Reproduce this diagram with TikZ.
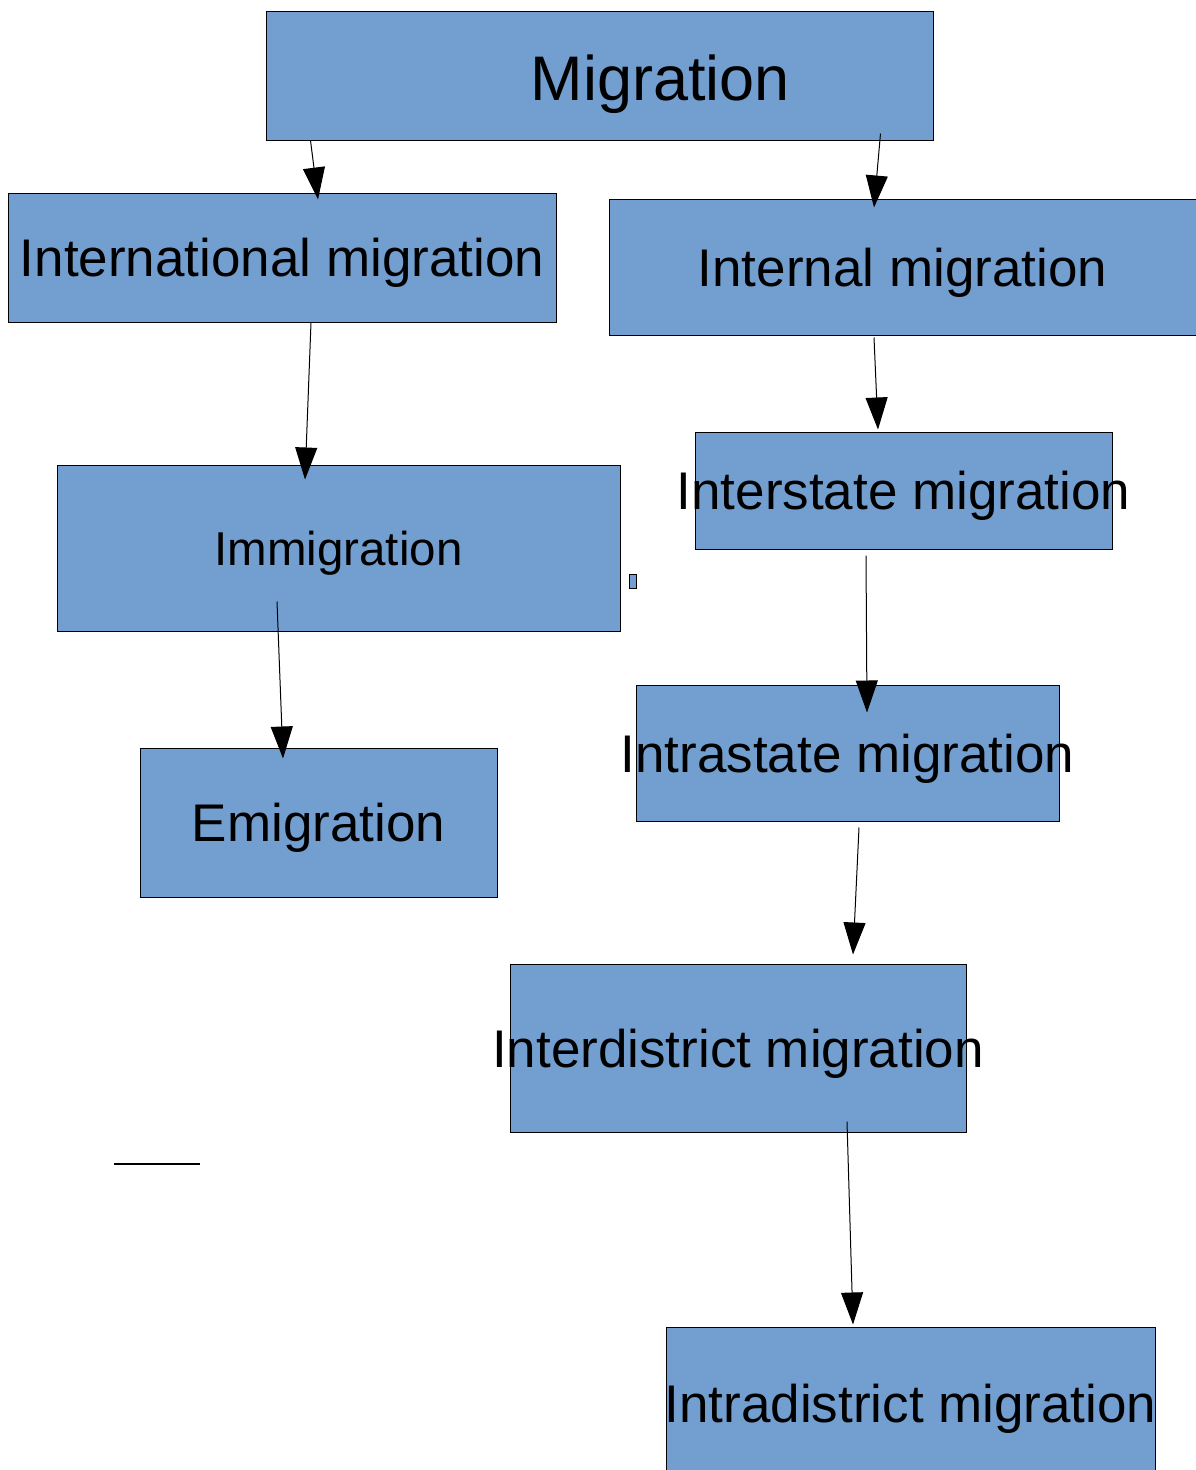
\documentclass[tikz,border=0pt]{standalone}
\usepackage{fontspec}
\setmainfont{Liberation Sans}
\usepackage{xcolor}
\usetikzlibrary{arrows.meta,positioning}
\definecolor{boxblue}{HTML}{729FCF}

\tikzset{
    box/.style={draw=black, line width=1pt, fill=boxblue, inner sep=0pt,
        text height=38pt, text depth=0pt, font=\fontsize{53}{60}\selectfont},
    link/.style={line width=1pt, -{Triangle[length=32pt,width=22pt]}}
}

\begin{document}
\begin{tikzpicture}[x=1pt, y=-1pt]
                        \useasboundingbox (0,0) rectangle (1195,1470);

                        \node[box, minimum width=667pt, minimum height=129pt] (mig) at (599.5,75.5) {};
                        \node[font=\fontsize{63}{70}\selectfont, inner sep=0pt, text height=45pt, text depth=0pt] (migT) at (660.5,78) {Migration};
                        \node[box, minimum width=548pt, minimum height=129pt] (intl) at (282,257.5) {\makebox[0pt]{International migration}};
                        \node[box, minimum width=587pt, minimum height=136pt] (internal) at (902.5,267) {\makebox[0pt]{Internal migration}};
                        \node[box, minimum width=563pt, minimum height=166pt, font=\fontsize{47.5}{55}\selectfont, text height=34pt] (imm) at (338.5,548) {\makebox[0pt]{Immigration}};
                        \node[box, minimum width=417pt, minimum height=117pt] (inter) at (903.5,490.5) {\makebox[0pt]{Interstate migration}};
                        \node[box, minimum width=357pt, minimum height=149pt] (emig) at (318.5,822.5) {\makebox[0pt]{Emigration}};
                        \node[box, minimum width=423pt, minimum height=136pt] (intra) at (847.5,753) {\makebox[0pt]{Intrastate migration}};
                        \node[box, minimum width=456pt, minimum height=168pt] (idist) at (738,1048) {\makebox[0pt]{Interdistrict migration}};
                        \node[box, minimum width=489pt, minimum height=152pt] (idist2) at (910.5,1403) {\makebox[0pt]{Intradistrict migration}};
                        \node[box, minimum width=7pt, minimum height=14pt, text height=0pt] (dot) at (632.5,581) {};

                        \coordinate (stroke1) at (114,1164);
                        \coordinate (stroke2) at (200,1164);

                        \draw[link] ([xshift=45pt]mig.south west) -- ([xshift=36pt,yshift=-7pt]intl.north);
                        \draw[link] ([xshift=-53pt,yshift=7pt]mig.south east) -- ([xshift=-28.5pt,yshift=-9pt]internal.north);
                        \draw[link] ([xshift=29pt]intl.south) -- ([xshift=-33.5pt,yshift=-15pt]imm.north);
                        \draw[link] ([xshift=-28.5pt,yshift=-2pt]internal.south) -- ([xshift=-25.5pt,yshift=2pt]inter.north);
                        \draw[link] ([xshift=-61.5pt,yshift=30pt]imm.south) -- ([xshift=-35.5pt,yshift=-11pt]emig.north);
                        \draw[link] ([xshift=-37.5pt,yshift=-6pt]inter.south) -- ([xshift=19.5pt,yshift=-28pt]intra.north);
                        \draw[link] ([xshift=11.5pt,yshift=-6pt]intra.south) -- ([xshift=115pt,yshift=9pt]idist.north);
                        \draw[link] ([xshift=109pt,yshift=11pt]idist.south) -- ([xshift=-57.5pt,yshift=2pt]idist2.north);
                        \draw[line width=2pt] (stroke1) -- (stroke2);
\end{tikzpicture}
\end{document}
